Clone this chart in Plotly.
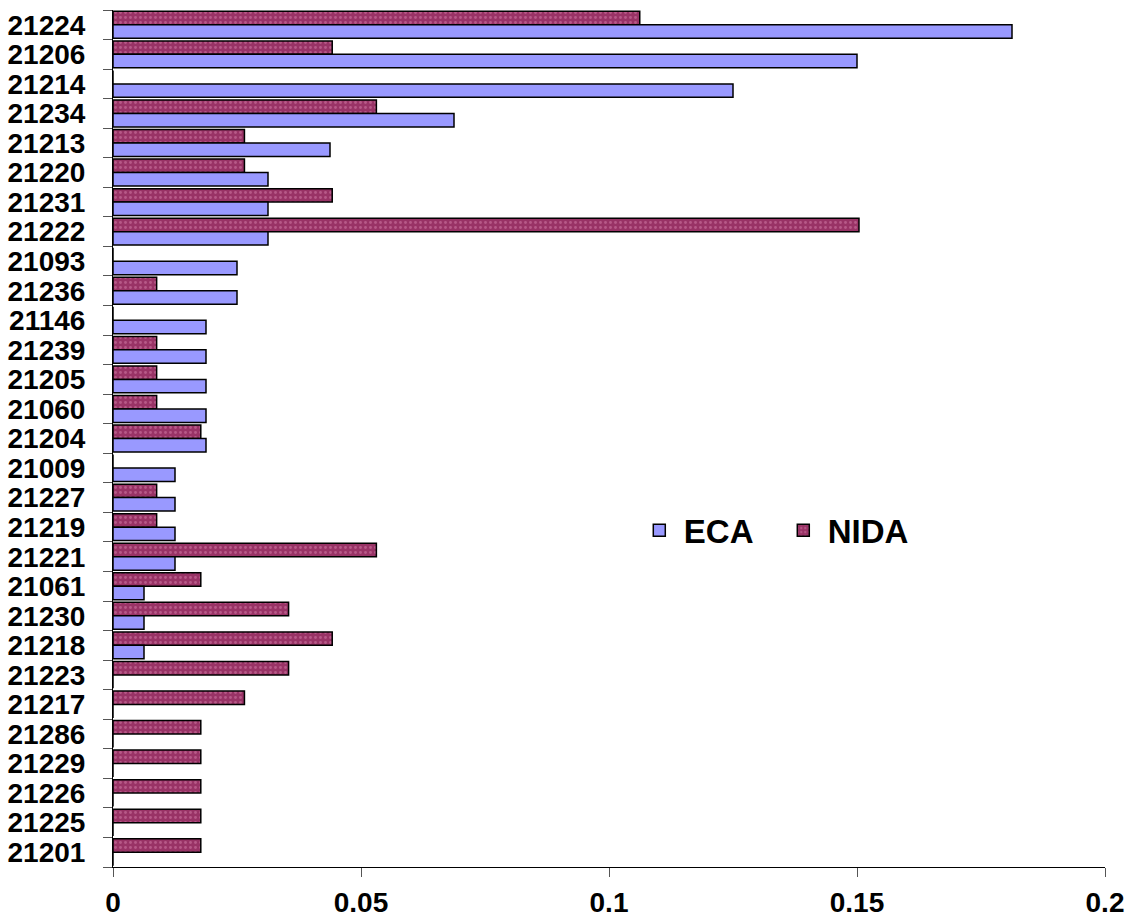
import plotly.graph_objects as go

categories = ["21224", "21206", "21214", "21234", "21213", "21220", "21231", "21222",
              "21093", "21236", "21146", "21239", "21205", "21060", "21204", "21009",
              "21227", "21219", "21221", "21061", "21230", "21218", "21223", "21217",
              "21286", "21229", "21226", "21225", "21201"]

eca = [0.18125, 0.15, 0.125, 0.06875, 0.04375, 0.03125, 0.03125, 0.03125,
       0.025, 0.025, 0.01875, 0.01875, 0.01875, 0.01875, 0.01875, 0.0125,
       0.0125, 0.0125, 0.0125, 0.00625, 0.00625, 0.00625, 0, 0,
       0, 0, 0, 0, 0]

nida = [0.1062, 0.0442, 0, 0.0531, 0.0265, 0.0265, 0.0442, 0.1504,
        0, 0.0088, 0, 0.0088, 0.0088, 0.0088, 0.0177, 0,
        0.0088, 0.0088, 0.0531, 0.0177, 0.0354, 0.0442, 0.0354, 0.0265,
        0.0177, 0.0177, 0.0177, 0.0177, 0.0177]

x_ticks = [0, 0.05, 0.1, 0.15, 0.2]
x_labels = ["0", "0.05", "0.1", "0.15", "0.2"]

FONT = "Liberation Sans, Arial, sans-serif"

fig = go.Figure()
fig.add_trace(go.Bar(
    y=categories, x=nida, name="NIDA", orientation="h",
    marker=dict(color="#993366", line=dict(color="#000000", width=1.5),
                pattern=dict(shape=".", bgcolor="#993366", fgcolor="#d580aa",
                             size=5, solidity=0.25, fillmode="overlay")),
    legendrank=2,
))
fig.add_trace(go.Bar(
    y=categories, x=eca, name="ECA", orientation="h",
    marker=dict(color="#9999FF", line=dict(color="#000000", width=1.5)),
    legendrank=1,
))

fig.update_layout(
    width=1127, height=919,
    barmode="group", bargap=0.09, bargroupgap=0,
    plot_bgcolor="white", paper_bgcolor="white",
    margin=dict(l=113, r=22, t=10, b=52, autoexpand=False),
    font=dict(family=FONT, color="black"),
    showlegend=True,
    legend=dict(orientation="h", x=0.526, y=0.393, xanchor="left", yanchor="middle",
                font=dict(family=FONT, size=33, color="black", weight="bold"),
                bgcolor="rgba(0,0,0,0)", itemwidth=39, tracegroupgap=0,
                entrywidth=90, entrywidthmode="pixels"),
    xaxis=dict(range=[0, 0.2], tickvals=x_ticks, ticktext=x_labels,
               showgrid=False, zeroline=False, showline=True, linecolor="black",
               linewidth=1, ticks="outside", ticklen=9, tickcolor="#555555",
               tickfont=dict(family=FONT, size=28, color="black", weight="bold"),
               ticklabelstandoff=1, automargin=False, fixedrange=True),
    yaxis=dict(type="category", categoryorder="array", categoryarray=categories,
               tickmode="array", tickvals=categories, ticktext=categories,
               autorange="reversed", showgrid=False, zeroline=False, showline=True,
               linecolor="black", linewidth=1, ticks="outside", ticklen=9,
               tickcolor="#555555", tickson="boundaries",
               tickfont=dict(family=FONT, size=28, color="black", weight="bold"),
               ticklabelstandoff=21, automargin=False, fixedrange=True),
)

fig.write_html(
    "out.html",
    config={"displayModeBar": False},
    post_script="document.body.style.margin='0';document.body.style.overflow='hidden';",
)
